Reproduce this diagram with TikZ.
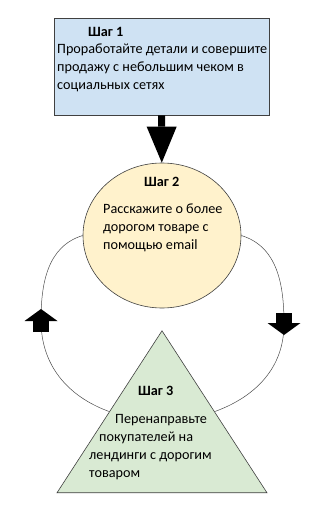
\documentclass[tikz,border=0pt]{standalone}
\usepackage{fontspec}
\setmainfont{Carlito}
\usepackage{tikz}
\usetikzlibrary{arrows.meta,shapes.geometric}
\definecolor{stepblue}{HTML}{CFE2F3}
\definecolor{steppeach}{HTML}{FFF2CC}
\definecolor{stepgreen}{HTML}{D9EAD3}
\newcommand{\salesfont}{\linespread{1}\fontsize{14.2}{18}\selectfont}
\tikzset{
    sales/chart/.style={font=\salesfont, x=1pt, y=1pt, every node/.style={align=left}},
    sales/box/.style={rectangle, draw=black!75, fill=stepblue, line width=0.6pt, minimum width=215pt, minimum height=97pt, inner sep=0pt},
    sales/round/.style={ellipse, draw=black!75, fill=steppeach, line width=0.6pt, minimum width=158pt, minimum height=145pt, inner sep=0pt},
    sales/pyramid/.style={isosceles triangle, isosceles triangle stretches, shape border rotate=90, draw=black!75, fill=stepgreen, line width=0.6pt, minimum width=210pt, minimum height=162pt, inner sep=0pt},
    sales/text/.style={inner sep=0pt, anchor=north west},
    sales/arrow/.style={-{Triangle[width=30pt,length=36pt,line width=0pt]}, line width=7pt, draw=black},
    sales/loop/.style={line width=0.5pt, draw=black!70},
    sales/block/.style={-{Triangle[width=33pt,length=12pt,line width=0pt]}, line width=16pt, draw=black}
}

\begin{document}
\begin{tikzpicture}[sales/chart]
    \useasboundingbox (0,0) rectangle (322,-524);
    \node[sales/box] (step1) at (161.5,-66.5) {};
    \node[sales/round] (step2) at (162,-235.5) {};
    \node[sales/pyramid, anchor=apex] (step3) at (162,-330) {};
    \node[sales/text] (step1label) at (57,-27) {\hspace*{31pt}\textbf{Шаг 1}\\[-1pt]Проработайте детали и совершите\\продажу с небольшим чеком в\\социальных сетях};
    \node[sales/text] (step2label) at (103,-177) {\hspace*{41pt}\textbf{Шаг 2}\\[9pt]Расскажите о более\\дорогом товаре с\\помощью email};
    \node[sales/text] (step3label) at (89,-386) {\hspace*{49pt}\textbf{Шаг 3}\\[10pt]\hspace*{26pt}Перенаправьте\\\hspace*{10pt}покупателей на\\лендинги с дорогим\\товаром};
    \coordinate (upMark) at (41,-320.5);
    \coordinate (downMark) at (284,-324);
    \draw[sales/arrow] (step1) -- (step2);
    \draw[sales/loop] (step2.west) to[out=197,in=90] (upMark) to[out=-90,in=160] (step3.left side);
    \draw[sales/loop] (step2.east) to[out=-17,in=90] (downMark) to[out=-90,in=20] (step3.right side);
    \draw[sales/block] ([yshift=-11.5pt]upMark) -- ([yshift=11.5pt]upMark);
    \draw[sales/block] ([yshift=11pt]downMark) -- ([yshift=-11pt]downMark);
\end{tikzpicture}
\end{document}
